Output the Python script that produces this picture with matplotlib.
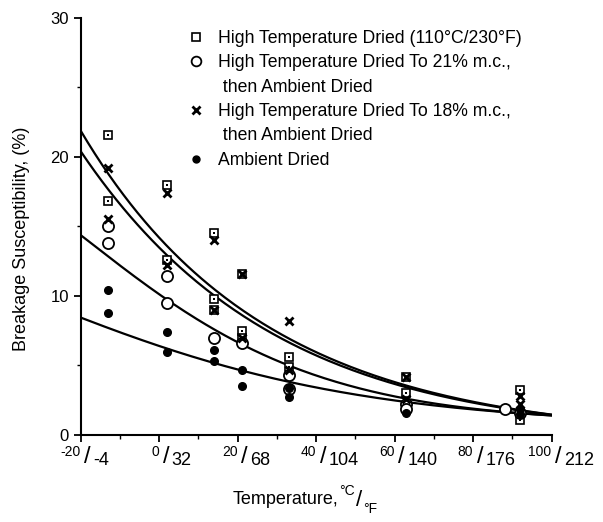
import numpy as np
import matplotlib
matplotlib.use("Agg")
import matplotlib.pyplot as plt
from matplotlib.lines import Line2D

plt.rcParams["font.family"] = ["Liberation Sans", "DejaVu Sans"]

# ── data ───────────────────────────────────────────────────
# high temperature dried (110C/230F)  -> open squares
ht_t = [-13, -13, 2, 2, 14, 14, 14, 21, 21, 21, 33, 33, 63, 63, 92, 92]
ht_b = [21.6, 16.8, 18.0, 12.6, 14.5, 9.8, 9.0, 11.6, 7.5, 7.0, 5.6, 4.9, 4.2, 3.0, 3.2, 1.1]
# high temperature dried to 21% m.c. -> open circles
m21_t = [-13, -13, 2, 2, 14, 21, 33, 33, 63, 63, 88, 92]
m21_b = [15.0, 13.8, 11.4, 9.5, 7.0, 6.6, 4.3, 3.3, 2.2, 1.9, 1.9, 1.6]
# high temperature dried to 18% m.c. -> crosses
m18_t = [-13, -13, 2, 2, 14, 14, 21, 21, 33, 33, 63, 63, 92, 92]
m18_b = [19.2, 15.5, 17.4, 12.2, 14.0, 9.0, 11.6, 7.0, 8.2, 4.7, 4.2, 2.6, 2.8, 2.2]
# ambient dried -> filled dots
amb_t = [-13, -13, 2, 2, 14, 14, 21, 21, 33, 33, 63, 92, 92]
amb_b = [10.4, 8.8, 7.4, 6.0, 6.1, 5.3, 4.7, 3.5, 3.4, 2.7, 1.6, 1.5, 1.9]

# fitted curves, read every 10 C
curve_t = [-20, -10, 0, 10, 20, 30, 40, 50, 60, 70, 80, 90, 100]
curve_ht = [21.6, 18.0, 14.1, 11.5, 9.3, 7.2, 6.0, 4.8, 3.8, 3.0, 2.4, 1.9, 1.45]
curve_18 = [20.0, 17.2, 13.4, 11.0, 8.8, 6.8, 5.8, 4.7, 3.7, 2.9, 2.3, 1.85, 1.45]
curve_21 = [14.5, 12.2, 10.0, 8.1, 6.7, 5.4, 4.4, 3.5, 2.7, 2.2, 1.9, 1.65, 1.4]
curve_amb = [8.5, 7.4, 6.2, 5.6, 4.8, 4.0, 3.4, 2.9, 2.5, 2.1, 1.85, 1.6, 1.4]

tick_c = [-20, 0, 20, 40, 60, 80, 100]
tick_f = [-4, 32, 68, 104, 140, 176, 212]

# ── figure ────────────────────────────────────────────────
fig = plt.figure(figsize=(6.03, 5.22), dpi=100)
ax = fig.add_axes([0.1338, 0.1667, 0.781, 0.799])

# smooth line through the read curve points (log-cubic)
tt = np.linspace(-20, 100, 200)
for c in (curve_ht, curve_18, curve_21, curve_amb):
    p = np.polyfit(curve_t, np.log(c), 3)
    ax.plot(tt, np.exp(np.polyval(p, tt)), color="black", lw=1.6, zorder=2)

ax.plot(ht_t, ht_b, "s", ms=5.5, mfc="white", mec="black", mew=1.2, zorder=3)
ax.plot(ht_t, ht_b, "s", ms=1.8, mfc="black", mec="black", mew=0, zorder=4)
ax.plot(m21_t, m21_b, "o", ms=8, mfc="white", mec="black", mew=1.3, zorder=3)
ax.plot(m18_t, m18_b, "x", ms=6, mec="black", mew=2, zorder=3)
ax.plot(amb_t, amb_b, "o", ms=5.5, mfc="black", mec="black", zorder=3)

ax.set_xlim(-20, 100)
ax.set_ylim(0, 30)
for s in ("top", "right"):
    ax.spines[s].set_visible(False)
ax.spines["left"].set_linewidth(1.5)
ax.spines["bottom"].set_linewidth(1.5)

ax.set_yticks([0, 10, 20, 30])
ax.set_yticks([5, 15, 25], minor=True)
ax.set_xticks(tick_c)
ax.set_xticks(range(-10, 100, 20), minor=True)
ax.set_xticklabels([])
ax.tick_params(axis="both", which="major", length=5, width=1.3, labelsize=12)
ax.tick_params(axis="both", which="minor", length=3, width=1.0)

# x tick labels like "20/68"
for c, f in zip(tick_c, tick_f):
    ax.annotate(str(c), xy=(c, 0), xycoords=("data", "axes fraction"), xytext=(0, -7),
                textcoords="offset points", ha="right", va="top", fontsize=10)
    ax.annotate("/", xy=(c, 0), xycoords=("data", "axes fraction"), xytext=(5, -8),
                textcoords="offset points", ha="center", va="top", fontsize=17)
    ax.annotate(str(f), xy=(c, 0), xycoords=("data", "axes fraction"), xytext=(9, -12),
                textcoords="offset points", ha="left", va="top", fontsize=13)

ax.set_ylabel("Breakage Susceptibility, (%)", fontsize=13)
ax.yaxis.set_label_coords(-0.108, 0.47)
fig.text(0.385, 0.035, "Temperature,", fontsize=13, ha="left", va="baseline")
fig.text(0.562, 0.052, "°C", fontsize=10, ha="left", va="baseline")
fig.text(0.59, 0.03, "/", fontsize=16, ha="left", va="baseline")
fig.text(0.603, 0.018, "°F", fontsize=10, ha="left", va="baseline")

blank = Line2D([], [], linestyle="none")
handles = [
    Line2D([], [], ls="none", marker="s", ms=5.5, mfc="white", mec="black", mew=1.2),
    Line2D([], [], ls="none", marker="o", ms=7, mfc="white", mec="black", mew=1.3),
    blank,
    Line2D([], [], ls="none", marker="x", ms=6, mec="black", mew=2),
    blank,
    Line2D([], [], ls="none", marker="o", ms=5, mfc="black", mec="black"),
]
labels = [
    "High Temperature Dried (110°C/230°F)",
    "High Temperature Dried To 21% m.c.,",
    " then Ambient Dried",
    "High Temperature Dried To 18% m.c.,",
    " then Ambient Dried",
    "Ambient Dried",
]
fig.legend(handles, labels, loc="upper left", bbox_to_anchor=(0.311, 0.943),
           frameon=False, fontsize=12.7, handlelength=1, handletextpad=0.75,
           labelspacing=0.42, borderpad=0, borderaxespad=0)

fig.savefig("out.png", dpi=100)
